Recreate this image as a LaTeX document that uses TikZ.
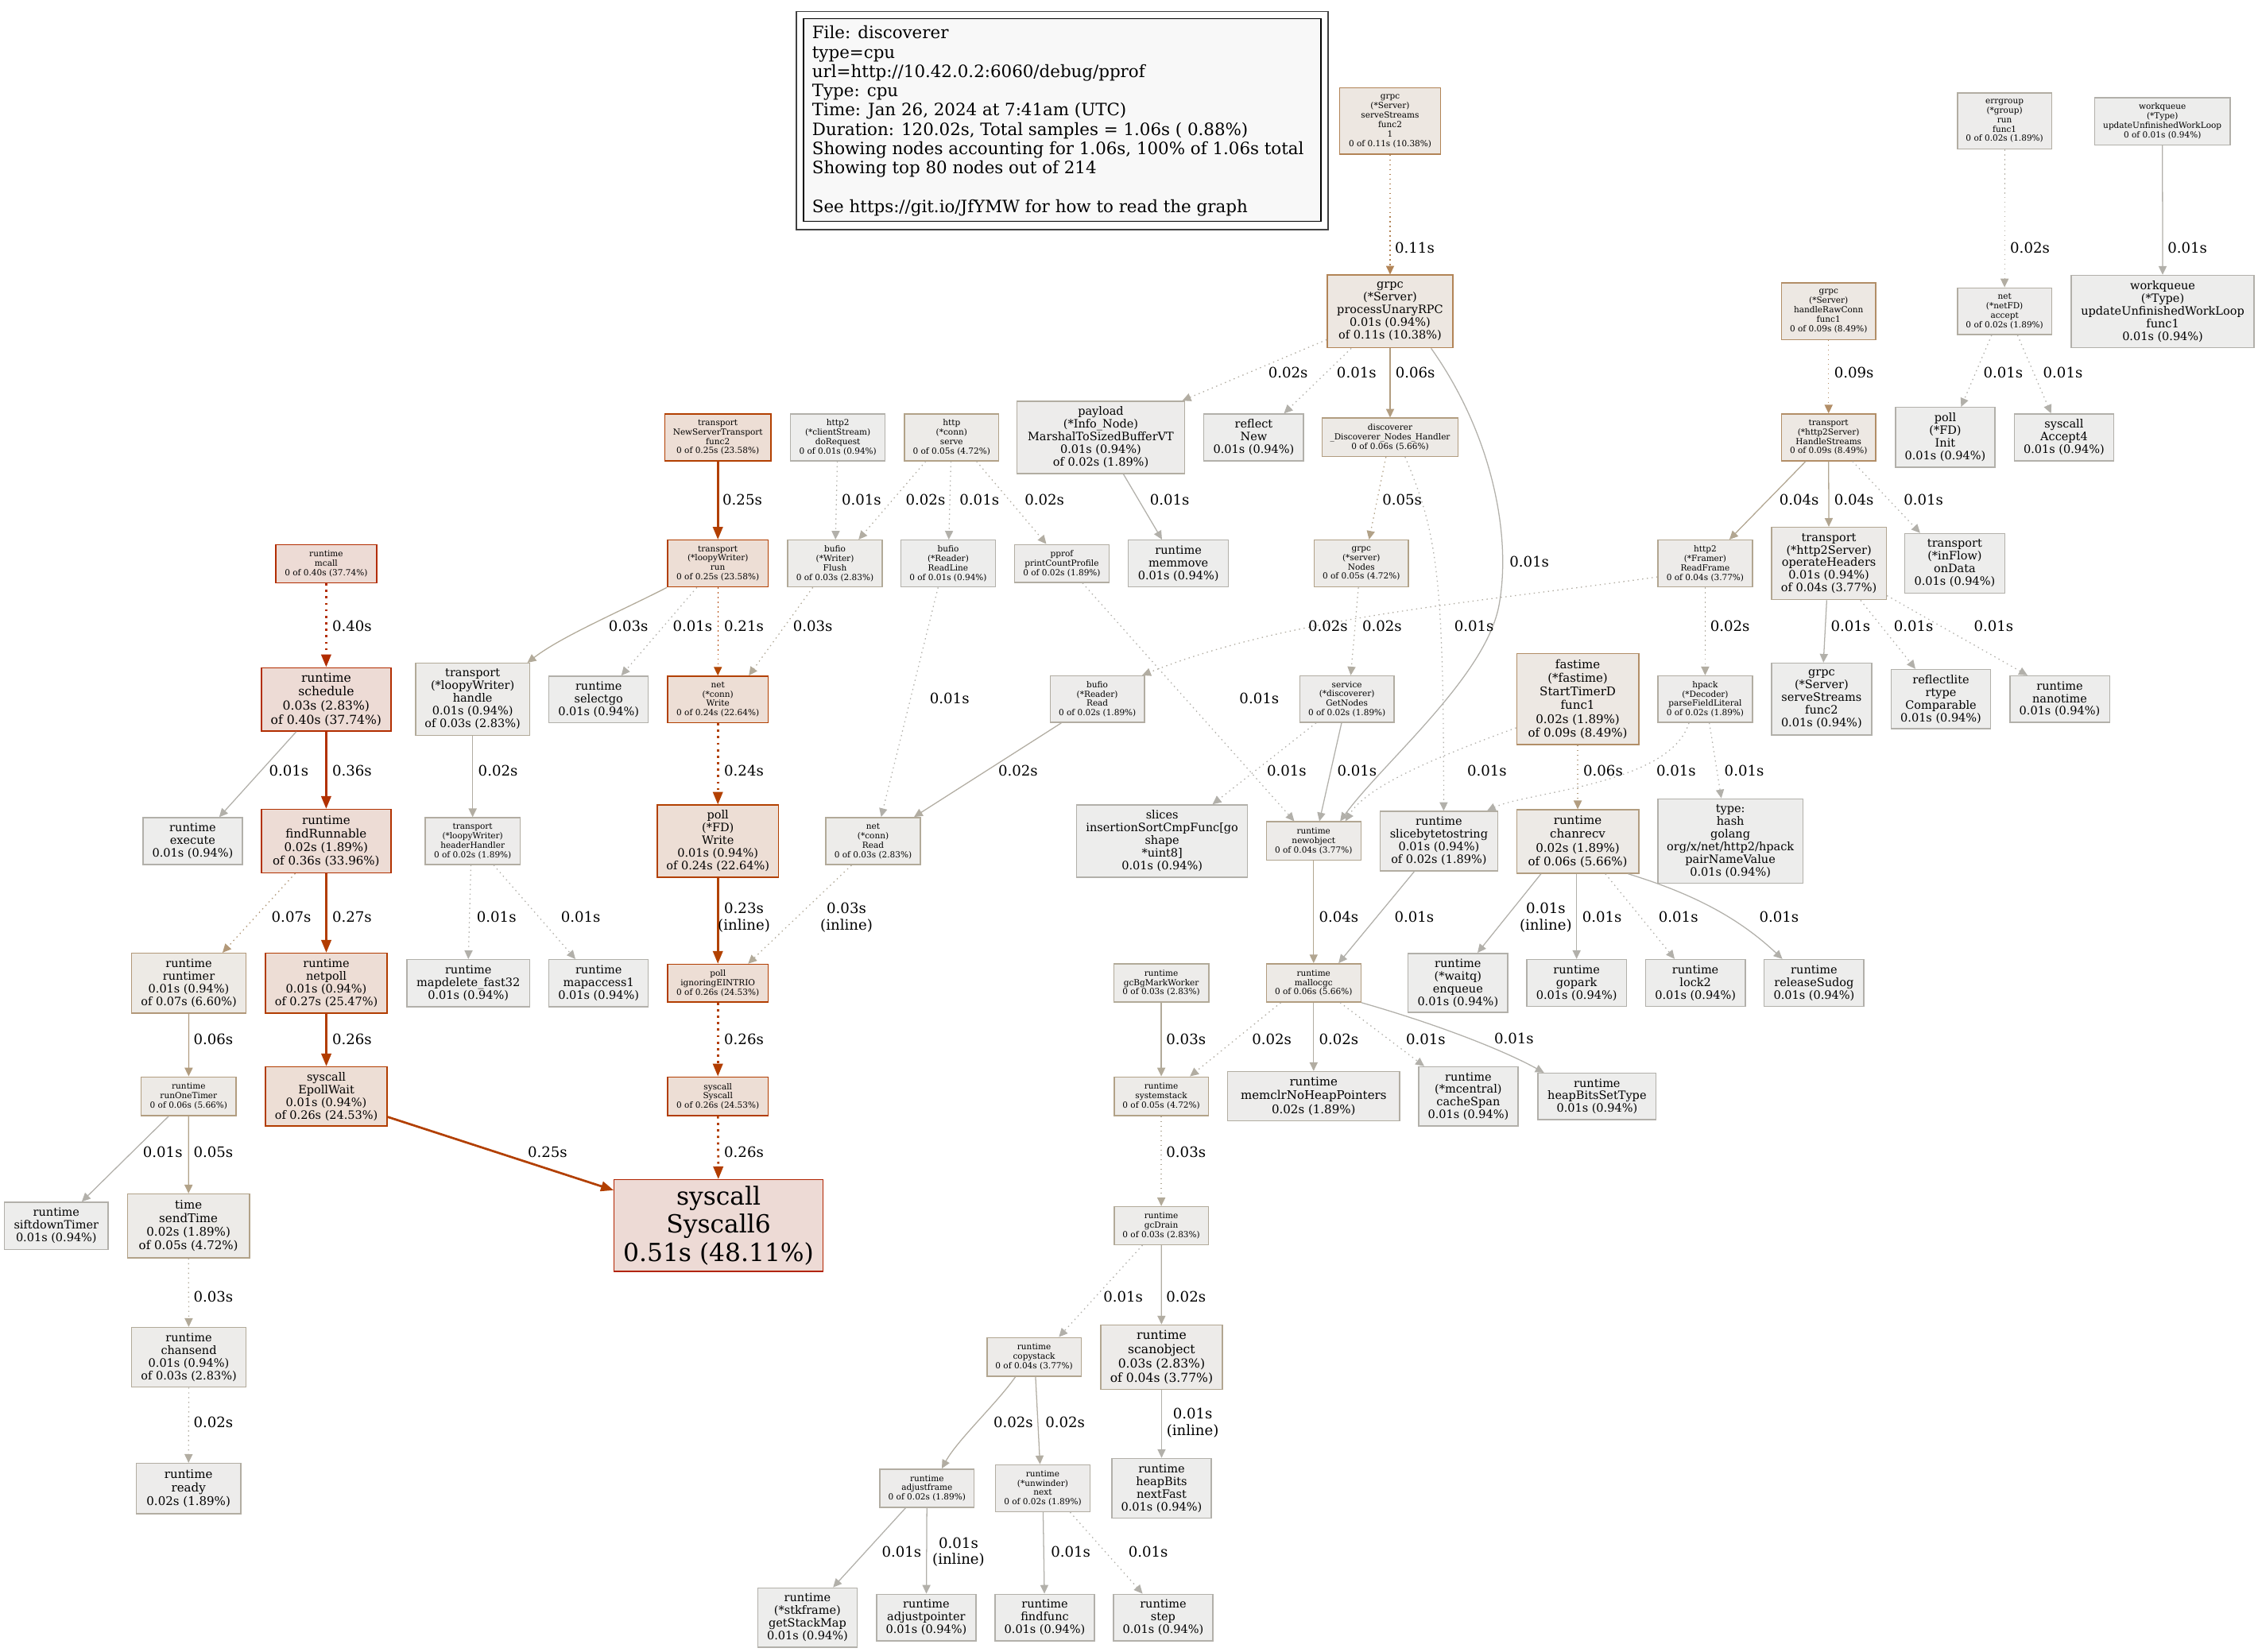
\documentclass[tikz,border=0pt]{standalone}
\usepackage{fontspec}
\setmainfont{DejaVu Serif}
\usetikzlibrary{arrows.meta}
\newcommand\mkcol[2]{%
  \pgfmathsetmacro\mkS{#2/1.06}%
  \pgfmathsetmacro\mkF{min(1,\mkS/0.2)}%
  \pgfmathsetmacro\mkP{pow(\mkS,0.3)}%
  \pgfmathsetmacro\mkG{0.93*(1-0.1*\mkF*\mkP)}%
  \pgfmathsetmacro\mkB{0.93*(1-0.1*\mkF)}%
  \definecolor{c#1bg}{rgb}{0.93,\mkG,\mkB}%
  \pgfmathsetmacro\mkG{0.7*(1-\mkF*\mkP)}%
  \pgfmathsetmacro\mkB{0.7*(1-\mkF)}%
  \definecolor{c#1fg}{rgb}{0.7,\mkG,\mkB}%
}
\mkcol{01}{0.01}\mkcol{02}{0.02}\mkcol{03}{0.03}\mkcol{04}{0.04}\mkcol{05}{0.05}
\mkcol{06}{0.06}\mkcol{07}{0.07}\mkcol{09}{0.09}\mkcol{11}{0.11}\mkcol{21}{0.21}
\mkcol{23}{0.23}\mkcol{24}{0.24}\mkcol{25}{0.25}\mkcol{26}{0.26}\mkcol{27}{0.27}
\mkcol{36}{0.36}\mkcol{40}{0.40}\mkcol{51}{0.51}
\definecolor{legfill}{HTML}{F8F8F8}
\begin{document}
\begin{tikzpicture}[x=1pt,y=1pt,
 nd/.style={draw, rectangle, align=center, inner sep=1pt, line width=0.8pt},
 sm/.style={nd, font=\fontsize{5.8}{6.55}\selectfont},
 fa/.style={nd, font=\fontsize{8}{8.8}\selectfont},
 fb/.style={nd, font=\fontsize{8.3}{9.5}\selectfont},
 fc/.style={nd, font=\fontsize{8.6}{9.8}\selectfont},
 fbig/.style={nd, font=\fontsize{17.3}{19.6}\selectfont},
 sz/.style 2 args={minimum width=#1pt, minimum height=#2pt},
 cl/.style={fill=c#1bg, draw=c#1fg},
 lb/.style={font=\fontsize{10}{11.3}\selectfont, align=center, inner sep=0pt},
 ed/.style={-{Triangle[length=6pt,width=5.6pt]}, draw=c#1fg, line width=0.7pt},
 edt/.style={-{Triangle[length=8.8pt,width=6.8pt]}, draw=c#1fg, line width=1.5pt},
 dt/.style={dash pattern=on 0.8pt off 2.5pt},
 dtt/.style={dash pattern=on 1.5pt off 3pt}]
\useasboundingbox (0,0) rectangle (1568,-1147);
\fill[white] (0,0) rectangle (1568,-1147);

% legend
\draw[line width=0.8pt, black!75] (553,-8) rectangle (922.2,-159.5);
\draw[line width=0.8pt, fill=legfill] (558,-13) rectangle (917.2,-153.8);
\node[anchor=west, align=left, inner sep=0pt, font=\fontsize{11.8}{13.38}\selectfont] (legend) at (563.8,-84) {File: discoverer\\type=cpu\\url=http://10.42.0.2:6060/debug/pprof\\Type: cpu\\Time: Jan 26, 2024 at 7:41am (UTC)\\Duration: 120.02s, Total samples = 1.06s ( 0.88\%)\\Showing nodes accounting for 1.06s, 100\% of 1.06s total\\Showing top 80 nodes out of 214\\[13.38pt]See https://git.io/JfYMW for how to read the graph};

% nodes
\node[sm,cl=11,sz={70}{46}] (ss21) at (965.3,-84.1) {grpc\\(*Server)\\serveStreams\\func2\\1\\0 of 0.11s (10.38\%)};
\node[sm,cl=02,sz={65.5}{39}] (errg) at (1392,-84) {errgroup\\(*group)\\run\\func1\\0 of 0.02s (1.89\%)};
\node[sm,cl=01,sz={94}{32.8}] (wqloop) at (1501.6,-84.2) {workqueue\\(*Type)\\updateUnfinishedWorkLoop\\0 of 0.01s (0.94\%)};
\node[fa,cl=11,sz={87.3}{50.5}] (pur) at (965.3,-216.3) {grpc\\(*Server)\\processUnaryRPC\\0.01s (0.94\%)\\of 0.11s (10.38\%)};
\node[sm,cl=02,sz={65.5}{32.5}] (accept) at (1392,-216.2) {net\\(*netFD)\\accept\\0 of 0.02s (1.89\%)};
\node[fa,cl=01,sz={126.9}{50.3}] (wqf1) at (1501.8,-216.4) {workqueue\\(*Type)\\updateUnfinishedWorkLoop\\func1\\0.01s (0.94\%)};
\node[sm,cl=09,sz={65.6}{39.2}] (hrc) at (1269.8,-216.2) {grpc\\(*Server)\\handleRawConn\\func1\\0 of 0.09s (8.49\%)};
\node[fa,cl=02,sz={116.4}{50.2}] (payload) at (764.4,-303.8) {payload\\(*Info\_Node)\\MarshalToSizedBufferVT\\0.01s (0.94\%)\\of 0.02s (1.89\%)};
\node[fa,cl=01,sz={69.2}{32.5}] (reflectNew) at (870.6,-303.8) {reflect\\New\\0.01s (0.94\%)};
\node[sm,cl=06,sz={94.3}{26.6}] (nh) at (965.3,-303.7) {discoverer\\\_Discoverer\_Nodes\_Handler\\0 of 0.06s (5.66\%)};
\node[sm,cl=09,sz={65.6}{32.5}] (hs) at (1269.8,-303.8) {transport\\(*http2Server)\\HandleStreams\\0 of 0.09s (8.49\%)};
\node[fa,cl=01,sz={69.2}{41.6}] (pollInit) at (1350.8,-303.8) {poll\\(*FD)\\Init\\0.01s (0.94\%)};
\node[fa,cl=01,sz={69.2}{32.5}] (accept4) at (1433.3,-303.8) {syscall\\Accept4\\0.01s (0.94\%)};
\node[sm,cl=25,sz={73.6}{32.5}] (nst) at (498.5,-303.8) {transport\\NewServerTransport\\func2\\0 of 0.25s (23.58\%)};
\node[sm,cl=01,sz={65.6}{32.5}] (doreq) at (581.8,-303.8) {http2\\(*clientStream)\\doRequest\\0 of 0.01s (0.94\%)};
\node[sm,cl=05,sz={65.6}{32.5}] (serve) at (660.8,-303.8) {http\\(*conn)\\serve\\0 of 0.05s (4.72\%)};
\node[sm,cl=25,sz={70}{32.5}] (loopyRun) at (498.5,-391.4) {transport\\(*loopyWriter)\\run\\0 of 0.25s (23.58\%)};
\node[sm,cl=03,sz={65.6}{32.5}] (flush) at (579.8,-391.4) {bufio\\(*Writer)\\Flush\\0 of 0.03s (2.83\%)};
\node[sm,cl=01,sz={65.6}{32.5}] (readline) at (658.4,-391.4) {bufio\\(*Reader)\\ReadLine\\0 of 0.01s (0.94\%)};
\node[sm,cl=02,sz={65.6}{26.3}] (pcp) at (737.3,-391.4) {pprof\\printCountProfile\\0 of 0.02s (1.89\%)};
\node[fa,cl=01,sz={69.5}{32.5}] (memmove) at (818.3,-391.4) {runtime\\memmove\\0.01s (0.94\%)};
\node[sm,cl=05,sz={65.6}{32.5}] (gnodes) at (945.3,-391.4) {grpc\\(*server)\\Nodes\\0 of 0.05s (4.72\%)};
\node[sm,cl=04,sz={65.6}{32.5}] (readframe) at (1184.1,-391.4) {http2\\(*Framer)\\ReadFrame\\0 of 0.04s (3.77\%)};
\node[fa,cl=04,sz={79.8}{50.3}] (opHeaders) at (1270,-391.4) {transport\\(*http2Server)\\operateHeaders\\0.01s (0.94\%)\\of 0.04s (3.77\%)};
\node[fa,cl=01,sz={69.3}{41.4}] (onData) at (1357.4,-391.3) {transport\\(*inFlow)\\onData\\0.01s (0.94\%)};
\node[sm,cl=40,sz={70}{26.6}] (mcall) at (226.5,-391.5) {runtime\\mcall\\0 of 0.40s (37.74\%)};
\node[fc,cl=40,sz={90}{44.1}] (schedule) at (226.5,-485.8) {runtime\\schedule\\0.03s (2.83\%)\\of 0.40s (37.74\%)};
\node[fa,cl=03,sz={79.2}{50}] (loopyHandle) at (328.2,-485.7) {transport\\(*loopyWriter)\\handle\\0.01s (0.94\%)\\of 0.03s (2.83\%)};
\node[fa,cl=01,sz={69}{32.3}] (selectgo) at (415.7,-485.8) {runtime\\selectgo\\0.01s (0.94\%)};
\node[sm,cl=24,sz={70}{32.3}] (netWrite) at (498.5,-485.8) {net\\(*conn)\\Write\\0 of 0.24s (22.64\%)};
\node[sm,cl=02,sz={65.5}{32.3}] (bufioRead) at (762,-485.6) {bufio\\(*Reader)\\Read\\0 of 0.02s (1.89\%)};
\node[sm,cl=02,sz={65.6}{32.3}] (getNodes) at (935.3,-485.6) {service\\(*discoverer)\\GetNodes\\0 of 0.02s (1.89\%)};
\node[fb,cl=09,sz={84.8}{63.4}] (fastime) at (1095.6,-485.5) {fastime\\(*fastime)\\StartTimerD\\func1\\0.02s (1.89\%)\\of 0.09s (8.49\%)};
\node[sm,cl=02,sz={65.6}{32.3}] (hpack) at (1184.1,-485.6) {hpack\\(*Decoder)\\parseFieldLiteral\\0 of 0.02s (1.89\%)};
\node[fa,cl=01,sz={69.5}{50}] (ss2b) at (1264.9,-485.6) {grpc\\(*Server)\\serveStreams\\func2\\0.01s (0.94\%)};
\node[fa,cl=01,sz={69.2}{41.2}] (reflectlite) at (1347.8,-485.6) {reflectlite\\rtype\\Comparable\\0.01s (0.94\%)};
\node[fa,cl=01,sz={69.2}{32.3}] (nanotime) at (1430.3,-485.6) {runtime\\nanotime\\0.01s (0.94\%)};
\node[fa,cl=01,sz={69}{32.5}] (execute) at (133.8,-584.2) {runtime\\execute\\0.01s (0.94\%)};
\node[fb,cl=36,sz={90}{44.1}] (findRunnable) at (226.5,-584.2) {runtime\\findRunnable\\0.02s (1.89\%)\\of 0.36s (33.96\%)};
\node[sm,cl=02,sz={66}{32.5}] (headerHandler) at (328.2,-584.2) {transport\\(*loopyWriter)\\headerHandler\\0 of 0.02s (1.89\%)};
\node[fa,cl=24,sz={84}{50}] (pollWrite) at (498.5,-584.2) {poll\\(*FD)\\Write\\0.01s (0.94\%)\\of 0.24s (22.64\%)};
\node[sm,cl=03,sz={65.5}{32.7}] (netRead) at (606.3,-584.2) {net\\(*conn)\\Read\\0 of 0.03s (2.83\%)};
\node[fa,cl=01,sz={118.7}{50.3}] (slices) at (807,-584.2) {slices\\insertionSortCmpFunc[go\\shape\\*uint8]\\0.01s (0.94\%)};
\node[sm,cl=04,sz={65.6}{26.6}] (newobject) at (912.2,-584.1) {runtime\\newobject\\0 of 0.04s (3.77\%)};
\node[fa,cl=02,sz={81.6}{41.2}] (s2s) at (999.2,-584.2) {runtime\\slicebytetostring\\0.01s (0.94\%)\\of 0.02s (1.89\%)};
\node[fb,cl=06,sz={84.8}{44.1}] (chanrecv) at (1095.6,-584.5) {runtime\\chanrecv\\0.02s (1.89\%)\\of 0.06s (5.66\%)};
\node[fa,cl=01,sz={100.7}{58.7}] (typehash) at (1201.6,-584.2) {type:\\hash\\golang\\org/x/net/http2/hpack\\pairNameValue\\0.01s (0.94\%)};
\node[fa,cl=07,sz={79.6}{41.6}] (runtimer) at (131.1,-682.9) {runtime\\runtimer\\0.01s (0.94\%)\\of 0.07s (6.60\%)};
\node[fa,cl=27,sz={84.6}{41.6}] (netpoll) at (226.6,-682.9) {runtime\\netpoll\\0.01s (0.94\%)\\of 0.27s (25.47\%)};
\node[fa,cl=01,sz={85}{32.7}] (mapdelete) at (325.2,-682.9) {runtime\\mapdelete\_fast32\\0.01s (0.94\%)};
\node[fa,cl=01,sz={69}{32.7}] (mapaccess) at (415.7,-682.9) {runtime\\mapaccess1\\0.01s (0.94\%)};
\node[sm,cl=26,sz={70}{26.3}] (eintr) at (498.5,-682.9) {poll\\ignoringEINTRIO\\0 of 0.26s (24.53\%)};
\node[sm,cl=03,sz={65.9}{26.6}] (gcbg) at (806.4,-682.7) {runtime\\gcBgMarkWorker\\0 of 0.03s (2.83\%)};
\node[sm,cl=06,sz={65.6}{26.6}] (mallocgc) at (912.2,-682.7) {runtime\\mallocgc\\0 of 0.06s (5.66\%)};
\node[fa,cl=01,sz={69.2}{41}] (enqueue) at (1012.4,-682.7) {runtime\\(*waitq)\\enqueue\\0.01s (0.94\%)};
\node[fa,cl=01,sz={69.2}{32.5}] (gopark) at (1094.8,-682.7) {runtime\\gopark\\0.01s (0.94\%)};
\node[fa,cl=01,sz={69.2}{32.5}] (lock2) at (1177.3,-682.7) {runtime\\lock2\\0.01s (0.94\%)};
\node[fa,cl=01,sz={69.2}{32.5}] (releaseSudog) at (1259.7,-682.7) {runtime\\releaseSudog\\0.01s (0.94\%)};
\node[sm,cl=06,sz={66}{27}] (runOneTimer) at (131,-761.5) {runtime\\runOneTimer\\0 of 0.06s (5.66\%)};
\node[fa,cl=26,sz={84.6}{41}] (epollWait) at (226.6,-761.5) {syscall\\EpollWait\\0.01s (0.94\%)\\of 0.26s (24.53\%)};
\node[sm,cl=26,sz={70}{27}] (syscallSyscall) at (498.5,-761.5) {syscall\\Syscall\\0 of 0.26s (24.53\%)};
\node[sm,cl=05,sz={65.4}{27}] (systemstack) at (806.4,-761.5) {runtime\\systemstack\\0 of 0.05s (4.72\%)};
\node[fb,cl=02,sz={119.3}{34.3}] (memclr) at (912.2,-761.4) {runtime\\memclrNoHeapPointers\\0.02s (1.89\%)};
\node[fa,cl=01,sz={68.9}{41.1}] (cacheSpan) at (1019.6,-761.5) {runtime\\(*mcentral)\\cacheSpan\\0.01s (0.94\%)};
\node[fa,cl=01,sz={82}{32.1}] (hbst) at (1109,-761.5) {runtime\\heapBitsSetType\\0.01s (0.94\%)};
\node[fa,cl=01,sz={72}{32.7}] (siftdown) at (39.1,-851.4) {runtime\\siftdownTimer\\0.01s (0.94\%)};
\node[fb,cl=05,sz={84.6}{44.4}] (sendTime) at (130.9,-851.5) {time\\sendTime\\0.02s (1.89\%)\\of 0.05s (4.72\%)};
\node[fbig,cl=51,sz={145}{63.6}] (syscall6) at (499,-851.2) {syscall\\Syscall6\\0.51s (48.11\%)};
\node[sm,cl=03,sz={65.4}{26.3}] (gcDrain) at (806.4,-851.3) {runtime\\gcDrain\\0 of 0.03s (2.83\%)};
\node[fa,cl=03,sz={79.6}{41.4}] (chansend) at (131.1,-942.7) {runtime\\chansend\\0.01s (0.94\%)\\of 0.03s (2.83\%)};
\node[sm,cl=04,sz={65.4}{26.9}] (copystack) at (718.1,-942.5) {runtime\\copystack\\0 of 0.04s (3.77\%)};
\node[fc,cl=04,sz={84.4}{44.7}] (scanobject) at (806.6,-942.6) {runtime\\scanobject\\0.03s (2.83\%)\\of 0.04s (3.77\%)};
\node[fb,cl=02,sz={72.6}{35}] (ready) at (130.9,-1033.9) {runtime\\ready\\0.02s (1.89\%)};
\node[sm,cl=02,sz={65.4}{26.6}] (adjustframe) at (643.7,-1033.7) {runtime\\adjustframe\\0 of 0.02s (1.89\%)};
\node[sm,cl=02,sz={65.8}{32.6}] (unwinder) at (724.1,-1033.7) {runtime\\(*unwinder)\\next\\0 of 0.02s (1.89\%)};
\node[fa,cl=01,sz={68.9}{41.4}] (hbnf) at (806.6,-1033.7) {runtime\\heapBits\\nextFast\\0.01s (0.94\%)};
\node[fa,cl=01,sz={68.9}{41.1}] (getStackMap) at (560.7,-1123.5) {runtime\\(*stkframe)\\getStackMap\\0.01s (0.94\%)};
\node[fa,cl=01,sz={68.9}{32.4}] (adjustpointer) at (643.2,-1123.5) {runtime\\adjustpointer\\0.01s (0.94\%)};
\node[fa,cl=01,sz={68.9}{32.4}] (findfunc) at (725.5,-1123.5) {runtime\\findfunc\\0.01s (0.94\%)};
\node[fa,cl=01,sz={68.9}{32.4}] (nstep) at (807.7,-1123.5) {runtime\\step\\0.01s (0.94\%)};

% edges
\draw[ed=11,dt] (ss21) -- (pur);
\draw[ed=02,dt] (errg) -- (accept);
\draw[ed=01] (wqloop) -- (wqf1);
\draw[ed=02,dt] ([yshift=6pt]pur.south west) -- ([xshift=-2pt]payload.north east);
\draw[ed=01,dt] ([xshift=-27pt]pur.south) -- ([xshift=21pt]reflectNew.north);
\draw[ed=06] (pur) -- (nh);
\draw[ed=01] ([xshift=28.5pt]pur.south) .. controls (1035,-300) and (1050,-370) .. (1041,-420) .. controls (1032,-470) and (960,-530) .. ([xshift=18.4pt]newobject.north);
\draw[ed=09,dt] (hrc) -- (hs);
\draw[ed=01,dt] ([xshift=-9pt]accept.south) -- ([xshift=11pt]pollInit.north);
\draw[ed=01,dt] ([xshift=9pt]accept.south) -- ([xshift=-9pt]accept4.north);
\draw[edt=25] (nst) -- (loopyRun);
\draw[ed=01,dt] (doreq) -- (flush);
\draw[ed=02,dt] ([xshift=-18pt]serve.south) -- ([xshift=16.4pt]flush.north);
\draw[ed=01,dt] (serve) -- (readline);
\draw[ed=02,dt] ([xshift=17.3pt]serve.south) -- ([xshift=-10.7pt]pcp.north);
\draw[ed=01] ([xshift=15.7pt]payload.south) -- ([xshift=-11.4pt]memmove.north);
\draw[ed=05,dt] ([xshift=-2.9pt]nh.south) -- ([xshift=5.4pt]gnodes.north);
\draw[ed=04] ([xshift=-15.9pt]hs.south) -- ([xshift=16.8pt]readframe.north);
\draw[ed=04] (hs) -- (opHeaders);
\draw[ed=01,dt] ([xshift=16.6pt]hs.south) -- ([xshift=-24pt]onData.north);
\draw[edt=40,dtt] (mcall) -- (schedule);
\draw[ed=03] (loopyRun.south west) .. controls (430,-425) and (390,-442) .. ([xshift=-2pt]loopyHandle.north east);
\draw[ed=01,dt] ([xshift=-14.6pt]loopyRun.south) -- ([xshift=15.7pt]selectgo.north);
\draw[ed=21,dt] (loopyRun) -- (netWrite);
\draw[ed=03,dt] ([xshift=-15.4pt]flush.south) -- ([xshift=21.5pt]netWrite.north);
\draw[ed=02,dt] ([yshift=-9.3pt]readframe.west) .. controls (1030,-418) and (895,-428) .. ([xshift=-2pt]bufioRead.north east);
\draw[ed=02,dt] ([xshift=-2pt]gnodes.south) -- ([xshift=2.7pt]getNodes.north);
\draw[ed=01,dt] ([xshift=10.4pt]nh.south) .. controls (998,-370) and (1002.5,-400) .. ([xshift=3.3pt]s2s.north);
\draw[ed=02,dt] (readframe) -- (hpack);
\draw[ed=01] ([xshift=-1.5pt]opHeaders.south) -- ([xshift=1.3pt]ss2b.north);
\draw[ed=01,dt] ([xshift=22pt]opHeaders.south) -- ([xshift=-17.7pt]reflectlite.north);
\draw[ed=01,dt] ([yshift=-22.3pt]opHeaders.east) -- ([xshift=-22.4pt]nanotime.north);
\draw[ed=01,dt] ([xshift=-7pt]readline.south) -- ([xshift=5.6pt]netRead.north);
\draw[ed=01,dt] ([xshift=14.4pt]pcp.south) -- ([xshift=-13.4pt]newobject.north);
\draw[ed=01] ([xshift=-20.8pt]schedule.south) -- ([xshift=18.4pt]execute.north);
\draw[edt=36] (schedule) -- (findRunnable);
\draw[ed=02] (loopyHandle) -- (headerHandler);
\draw[edt=24,dtt] (netWrite) -- (pollWrite);
\draw[ed=02] ([xshift=-25pt]bufioRead.south) -- ([xshift=28.4pt]netRead.north);
\draw[ed=01,dt] ([xshift=-21.4pt]getNodes.south) -- ([xshift=35pt]slices.north);
\draw[ed=01] ([xshift=-3.7pt]getNodes.south) -- ([xshift=4pt]newobject.north);
\draw[ed=01,dt] ([yshift=-20pt]fastime.west) .. controls (1000,-525) and (950,-545) .. ([xshift=22pt]newobject.north);
\draw[ed=06,dt] (fastime) -- (chanrecv);
\draw[ed=01,dt] ([xshift=-11.3pt]hpack.south) .. controls (1160,-545) and (1060,-550) .. ([xshift=33.4pt]s2s.north);
\draw[ed=01,dt] ([xshift=2.9pt]hpack.south) -- ([xshift=-6.3pt]typehash.north);
\draw[ed=07,dt] ([xshift=-21.5pt]findRunnable.south) -- ([xshift=23.4pt]runtimer.north);
\draw[edt=27] (findRunnable) -- (netpoll);
\draw[ed=01,dt] ([xshift=-1.2pt]headerHandler.south) -- (mapdelete.north);
\draw[ed=01,dt] ([xshift=14.6pt]headerHandler.south) -- ([xshift=-16.1pt]mapaccess.north);
\draw[edt=23] (pollWrite) -- (eintr);
\draw[ed=03,dt] ([xshift=-15pt]netRead.south) -- ([xshift=21pt]eintr.north);
\draw[ed=04] (newobject) -- (mallocgc);
\draw[ed=01] ([xshift=-17pt]s2s.south) -- ([xshift=17.3pt]mallocgc.north);
\draw[ed=01] ([xshift=-25.5pt]chanrecv.south) -- ([xshift=13.6pt]enqueue.north);
\draw[ed=01] ([xshift=-0.8pt]chanrecv.south) -- (gopark.north);
\draw[ed=01,dt] ([xshift=19.2pt]chanrecv.south) -- ([xshift=-14.4pt]lock2.north);
\draw[ed=01] ([xshift=35pt]chanrecv.south) .. controls (1180,-622) and (1210,-640) .. ([xshift=-22pt]releaseSudog.north);
\draw[ed=06] (runtimer) -- (runOneTimer);
\draw[edt=26] (netpoll) -- (epollWait);
\draw[edt=26,dtt] (eintr) -- (syscallSyscall);
\draw[ed=03] (gcbg) -- (systemstack);
\draw[ed=02,dt] ([xshift=-22.8pt]mallocgc.south) -- ([xshift=19.9pt]systemstack.north);
\draw[ed=02] (mallocgc) -- (memclr);
\draw[ed=01,dt] ([xshift=18.4pt]mallocgc.south) -- ([xshift=-30.6pt]cacheSpan.north);
\draw[ed=01] (mallocgc.south east) .. controls (1000,-712) and (1045,-730) .. ([xshift=-36.8pt]hbst.north);
\draw[ed=01] ([xshift=-14pt]runOneTimer.south) -- ([xshift=17.7pt]siftdown.north);
\draw[ed=05] (runOneTimer) -- (sendTime);
\draw[edt=25] ([yshift=-14.3pt]epollWait.east) -- ([yshift=-7.7pt]syscall6.north west);
\draw[edt=26,dtt] (syscallSyscall) -- (syscall6);
\draw[ed=03,dt] (systemstack) -- (gcDrain);
\draw[ed=03,dt] (sendTime) -- (chansend);
\draw[ed=01,dt] ([xshift=-13pt]gcDrain.south) -- ([xshift=17.2pt]copystack.north);
\draw[ed=02] (gcDrain) -- (scanobject);
\draw[ed=02,dt] (chansend) -- (ready);
\draw[ed=02] ([xshift=-13pt]copystack.south) .. controls (692,-975) and (665,-1000) .. ([xshift=10.3pt]adjustframe.north);
\draw[ed=02] ([xshift=1pt]copystack.south) -- ([xshift=-1.9pt]unwinder.north);
\draw[ed=01] (scanobject) -- (hbnf);
\draw[ed=01] ([xshift=-14.9pt]adjustframe.south) -- ([xshift=17.8pt]getStackMap.north);
\draw[ed=01] (adjustframe) -- (adjustpointer);
\draw[ed=01] (unwinder) -- (findfunc);
\draw[ed=01,dt] ([xshift=19pt]unwinder.south) -- ([xshift=-14.3pt]nstep.north);

% edge labels
\node[lb] (L1) at (982.4,-172.2) {0.11s};
\node[lb] (L2) at (1409.6,-172.2) {0.02s};
\node[lb] (L3) at (1518.9,-172.2) {0.01s};
\node[lb] (L4) at (894.5,-259) {0.02s};
\node[lb] (L5) at (942,-259) {0.01s};
\node[lb] (L6) at (982.8,-259) {0.06s};
\node[lb] (L7) at (1062,-390) {0.01s};
\node[lb] (L8) at (1287.4,-259) {0.09s};
\node[lb] (L9) at (1391,-259) {0.01s};
\node[lb] (L10) at (1432.5,-259) {0.01s};
\node[lb] (L11) at (515.5,-346.9) {0.25s};
\node[lb] (L12) at (598.2,-346.9) {0.01s};
\node[lb] (L13) at (642.7,-346.9) {0.02s};
\node[lb] (L14) at (680.1,-346.9) {0.01s};
\node[lb] (L15) at (725.3,-346.9) {0.02s};
\node[lb] (L16) at (812.2,-346.9) {0.01s};
\node[lb] (L17) at (973.7,-346.9) {0.05s};
\node[lb] (L18) at (1249.3,-346.9) {0.04s};
\node[lb] (L19) at (1287.4,-346.9) {0.04s};
\node[lb] (L20) at (1335.7,-346.9) {0.01s};
\node[lb] (L21) at (244.4,-434.8) {0.40s};
\node[lb] (L22) at (436.4,-434.8) {0.03s};
\node[lb] (L23) at (480.9,-434.8) {0.01s};
\node[lb] (L24) at (516.6,-434.8) {0.21s};
\node[lb] (L25) at (564.4,-434.8) {0.03s};
\node[lb] (L26) at (922.2,-434.8) {0.02s};
\node[lb] (L27) at (959.7,-434.8) {0.02s};
\node[lb] (L28) at (1023.6,-434.8) {0.01s};
\node[lb] (L29) at (1201.3,-434.8) {0.02s};
\node[lb] (L30) at (1285.1,-434.8) {0.01s};
\node[lb] (L31) at (1328.8,-434.8) {0.01s};
\node[lb] (L32) at (1384.4,-434.8) {0.01s};
\node[lb] (L33) at (659.4,-484.9) {0.01s};
\node[lb] (L34) at (874.4,-484.9) {0.01s};
\node[lb] (L35) at (200.6,-535.1) {0.01s};
\node[lb] (L36) at (244.4,-535.1) {0.36s};
\node[lb] (L37) at (345.8,-535.1) {0.02s};
\node[lb] (L38) at (516.6,-535.1) {0.24s};
\node[lb] (L39) at (706.9,-535.1) {0.02s};
\node[lb] (L40) at (893.5,-535.1) {0.01s};
\node[lb] (L41) at (942.3,-535.1) {0.01s};
\node[lb] (L42) at (1032.6,-535.1) {0.01s};
\node[lb] (L43) at (1113.2,-535.1) {0.06s};
\node[lb] (L44) at (1163.9,-535.1) {0.01s};
\node[lb] (L45) at (1211.2,-535.1) {0.01s};
\node[lb] (L46) at (202.3,-637.1) {0.07s};
\node[lb] (L47) at (244.4,-637.1) {0.27s};
\node[lb] (L48) at (344.8,-637.1) {0.01s};
\node[lb] (L49) at (403.3,-637.1) {0.01s};
\node[lb] (L50) at (516.6,-637.2) {0.23s\\(inline)};
\node[lb] (L51) at (587.8,-637.2) {0.03s\\(inline)};
\node[lb] (L52) at (929.6,-637.1) {0.04s};
\node[lb] (L53) at (982.1,-637.1) {0.01s};
\node[lb] (L54) at (1073.4,-637.2) {0.01s\\(inline)};
\node[lb] (L55) at (1112.5,-637.1) {0.01s};
\node[lb] (L56) at (1165.5,-637.1) {0.01s};
\node[lb] (L57) at (1235.4,-637.1) {0.01s};
\node[lb] (L58) at (148.1,-721.7) {0.06s};
\node[lb] (L59) at (244.4,-721.7) {0.26s};
\node[lb] (L60) at (516.6,-721.7) {0.26s};
\node[lb] (L61) at (823.6,-721.6) {0.03s};
\node[lb] (L62) at (883.1,-721.6) {0.02s};
\node[lb] (L63) at (929.6,-721.6) {0.02s};
\node[lb] (L64) at (990.1,-721.6) {0.01s};
\node[lb] (L65) at (1051.3,-721.5) {0.01s};
\node[lb] (L66) at (113,-800) {0.01s};
\node[lb] (L67) at (148.1,-800) {0.05s};
\node[lb] (L68) at (380.2,-800) {0.25s};
\node[lb] (L69) at (516.6,-800) {0.26s};
\node[lb] (L70) at (823.6,-800) {0.03s};
\node[lb] (L71) at (148.1,-900.6) {0.03s};
\node[lb] (L72) at (779.9,-900.8) {0.01s};
\node[lb] (L73) at (823.6,-900.8) {0.02s};
\node[lb] (L74) at (148.1,-988) {0.02s};
\node[lb] (L75) at (703.6,-988) {0.02s};
\node[lb] (L76) at (739.6,-988) {0.02s};
\node[lb] (L77) at (828.2,-988.2) {0.01s\\(inline)};
\node[lb] (L78) at (626.1,-1077.7) {0.01s};
\node[lb] (L79) at (665.6,-1078.1) {0.01s\\(inline)};
\node[lb] (L80) at (743.5,-1077.7) {0.01s};
\node[lb] (L81) at (797.3,-1077.7) {0.01s};
\end{tikzpicture}
\end{document}
